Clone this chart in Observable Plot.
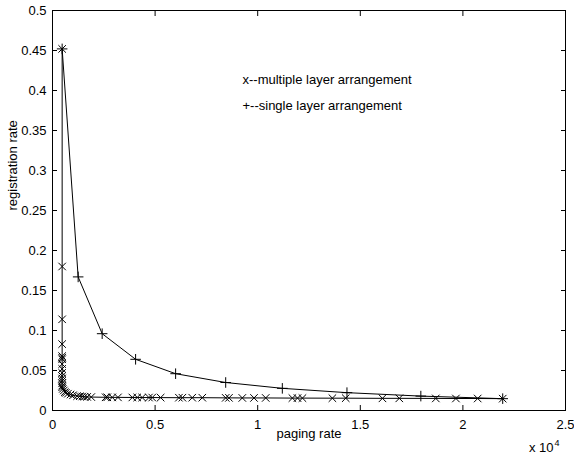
<!DOCTYPE html>
<html><head><meta charset="utf-8">
<script src="https://cdn.jsdelivr.net/npm/d3@7"></script>
<script src="https://cdn.jsdelivr.net/npm/@observablehq/plot@0.6"></script>
<style>body{margin:0;background:#fff} #chart{width:574px;height:454px}</style>
</head><body><div id="chart"></div>
<script>
// paging rate (actual units; axis shows x 10^4)
const multiX = [470,470,470,470,470,470,470,470,470,470,470,470,470,470,470,470,
  500,550,600,650,750,880,1000,1200,1330,1450,1560,1690,1890,2590,2670,2910,3190,
  3890,4130,4370,4700,4860,5270,6160,6330,6810,7300,8440,8600,9250,9820,10390,
  11690,11940,12180,13640,14290,16080,16900,18680,19660,20720,21940];
const multiY = [0.452,0.18,0.114,0.083,0.068,0.066,0.064,0.058,0.052,0.047,0.043,0.040,0.037,0.034,0.031,0.029,
  0.027,0.025,0.023,0.022,0.021,0.020,0.019,0.018,0.0178,0.0175,0.0172,0.0170,0.0168,0.0165,0.0165,0.0164,0.0164,
  0.0163,0.0163,0.0162,0.0162,0.0162,0.0161,0.0160,0.0160,0.0160,0.0160,0.0158,0.0158,0.0157,0.0157,0.0157,
  0.0155,0.0155,0.0155,0.0154,0.0154,0.0152,0.0152,0.0151,0.0150,0.0150,0.0148];
const singleX = [470,1250,2420,4050,6000,8440,11200,14350,17950,21940];
const singleY = [0.452,0.167,0.096,0.064,0.046,0.035,0.0277,0.0223,0.018,0.0148];
const xTicks = [0,5000,10000,15000,20000,25000];
const yTicks = [0,0.05,0.1,0.15,0.2,0.25,0.3,0.35,0.4,0.45,0.5];
const legendLabels = ["x--multiple layer arrangement", "+--single layer arrangement"];
const xTitle = "paging rate";
const yTitle = "registration rate";
const xMultiplier = "x 10";
const xExponent = "4";

const multi = multiX.map((x, i) => ({x, y: multiY[i]}));
const single = singleX.map((x, i) => ({x, y: singleY[i]}));
const fmtY = d => String(+d.toFixed(2));

const plot = Plot.plot({
  width: 574, height: 454,
  marginLeft: 52, marginRight: 9, marginTop: 10, marginBottom: 44,
  style: {fontFamily: "'Liberation Sans', Arial, sans-serif", fontSize: "13px", color: "black", background: "white"},
  x: {domain: [0, 25000]},
  y: {domain: [0, 0.5]},
  marks: [
    Plot.frame({stroke: "black"}),
    Plot.axisX(xTicks, {anchor: "bottom", tickSize: -5, tickPadding: 14, tickFormat: d => String(d / 1e4), label: null}),
    Plot.axisX(xTicks, {anchor: "top", tickSize: -5, tickFormat: () => "", label: null}),
    Plot.axisY(yTicks, {anchor: "left", tickSize: -5, tickPadding: 11, tickFormat: fmtY, label: null}),
    Plot.axisY(yTicks, {anchor: "right", tickSize: -5, tickFormat: () => "", label: null}),
    Plot.line(multi, {x: "x", y: "y", stroke: "black", strokeWidth: 1}),
    Plot.dot(multi, {x: "x", y: "y", symbol: "times", stroke: "black", strokeWidth: 1, r: 3.5}),
    Plot.line(single, {x: "x", y: "y", stroke: "black", strokeWidth: 1}),
    Plot.dot(single, {x: "x", y: "y", symbol: "plus", stroke: "black", strokeWidth: 1, r: 3.5}),
    Plot.text([legendLabels[0]], {frameAnchor: "top-left", textAnchor: "start", dx: 190, dy: 64, fill: "black"}),
    Plot.text([legendLabels[1]], {frameAnchor: "top-left", textAnchor: "start", dx: 190, dy: 90, fill: "black"}),
    Plot.text([xTitle], {frameAnchor: "bottom", dy: 27, fill: "black"}),
    Plot.text([yTitle], {frameAnchor: "left", rotate: -90, dx: -40, fill: "black"}),
    Plot.text([xMultiplier], {frameAnchor: "bottom-right", textAnchor: "end", dx: -12, dy: 41, fill: "black"}),
    Plot.text([xExponent], {frameAnchor: "bottom-right", textAnchor: "start", dx: -11, dy: 35, fontSize: 9, fill: "black"})
  ]
});
document.getElementById("chart").appendChild(plot);
</script>
</body></html>
